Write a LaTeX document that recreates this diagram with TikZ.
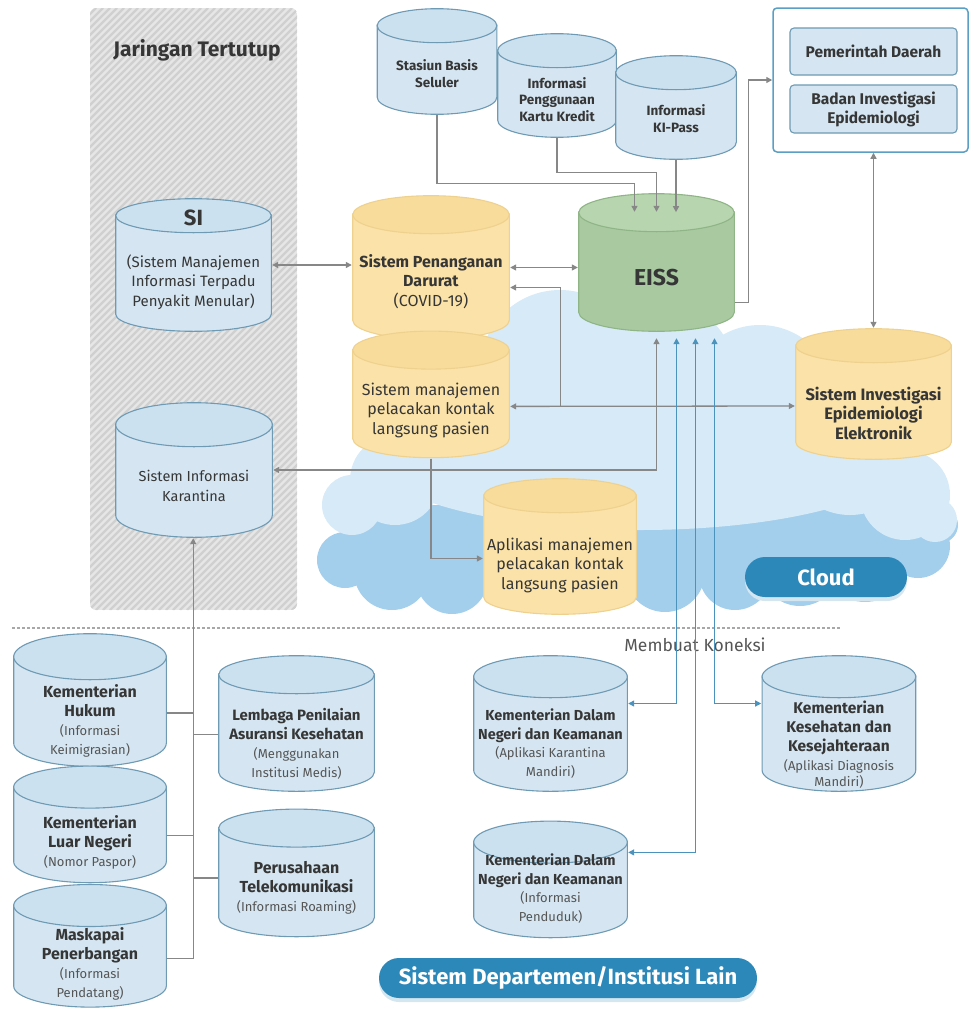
\documentclass[tikz,border=0pt]{standalone}
\usepackage{fontspec}
\setmainfont{Fira Sans}
\usetikzlibrary{arrows.meta,positioning,calc}

\definecolor{ink}{HTML}{363636}
\definecolor{notegray}{HTML}{555555}
\definecolor{dbblue}{HTML}{D5E6F2}
\definecolor{dbbluetop}{HTML}{CCE1EF}
\definecolor{dbblueline}{HTML}{6E9AB4}
\definecolor{dbyellow}{HTML}{FBE2A8}
\definecolor{dbyellowtop}{HTML}{F8DC9C}
\definecolor{dbyellowline}{HTML}{EFD18F}
\definecolor{dbgreen}{HTML}{A9CAA1}
\definecolor{dbgreentop}{HTML}{B7D5AE}
\definecolor{dbgreenline}{HTML}{8FB587}
\definecolor{linegray}{HTML}{878787}
\definecolor{linkblue}{HTML}{4B93BC}
\definecolor{boxline}{HTML}{5A9FC4}
\definecolor{cloudlight}{HTML}{D7EAF7}
\definecolor{clouddark}{HTML}{A3CEEC}
\definecolor{pillblue}{HTML}{2D88BA}
\definecolor{pillshade}{HTML}{D4E6F0}
\definecolor{panel}{HTML}{E6E6E6}
\definecolor{stripe}{HTML}{D0D0D0}
\definecolor{dashgray}{HTML}{A8A8A8}

% smaller grey line under a title
\newcommand\note[1]{{\fontsize{13}{15}\selectfont\mdseries\color{notegray}#1}}

\begin{document}
\begin{tikzpicture}[x=1pt, y=-1pt,
    dbcol/.initial=dbblue,
    dbry/.initial=18,
    % width, height, distance of the last baseline above the bottom
    db/.style n args={3}{rectangle, inner sep=0pt, align=center, text=ink,
      minimum width=#1pt, minimum height=#2pt,
      text depth=#3pt, text height={#2pt-#3pt},
      path picture={
        \path[fill=\pgfkeysvalueof{/tikz/dbcol}, draw=\pgfkeysvalueof{/tikz/dbcol}line, line width=1.1pt]
          let \p1=(path picture bounding box.north west),
              \p2=(path picture bounding box.south east),
              \n1={(\x2-\x1)/2-0.7}, \n2={\pgfkeysvalueof{/tikz/dbry}} in
          ({\x1+0.7pt},{\y1-\n2*1pt}) -- ({\x1+0.7pt},{\y2+\n2*1pt+0.7pt})
          arc[start angle=180, end angle=360, x radius={\n1*1pt}, y radius={\n2*1pt}]
          -- ({\x2-0.7pt},{\y1-\n2*1pt}) -- cycle;
        \path[fill=\pgfkeysvalueof{/tikz/dbcol}top, draw=\pgfkeysvalueof{/tikz/dbcol}line, line width=1.1pt]
          let \p1=(path picture bounding box.north west),
              \p2=(path picture bounding box.south east),
              \n1={(\x2-\x1)/2-0.7}, \n2={\pgfkeysvalueof{/tikz/dbry}} in
          ({(\x1+\x2)/2},{\y1-\n2*1pt-0.7pt}) ellipse[x radius={\n1*1pt}, y radius={\n2*1pt}];
      }},
    small/.style={font=\fontsize{13.5}{16.5}\selectfont\bfseries},
    plain/.style={font=\fontsize{16}{19.5}\selectfont},
    heavy/.style={font=\fontsize{16}{19}\selectfont\bfseries},
    inner/.style={draw=dbblueline, fill=dbblue, line width=1.1pt, rounded corners=4pt,
                  minimum width=167pt, text=ink, align=center,
                  font=\fontsize{15.5}{19}\selectfont\bfseries},
    pill/.style={fill=pillblue, text=white, rounded corners=20pt, minimum height=40pt,
                 font=\fontsize{22}{24}\selectfont\bfseries,
                 preaction={fill=pillshade, transform canvas={yshift=-4pt}}},
    garr/.style={draw=linegray, line width=1.3pt, >={Triangle[length=6pt,width=6pt]}},
    barr/.style={draw=linkblue, line width=1.3pt, >={Triangle[length=6pt,width=6pt]}}]

  \useasboundingbox (0,0) rectangle (971,1009);

  % closed network panel
  \begin{scope}
    \clip[rounded corners=6pt] (90,8) rectangle (297,610);
    \fill[panel] (90,8) rectangle (297,610);
    \foreach \i in {-520,-513,...,300}
      \draw[stripe, line width=2.2pt] (\i,610) -- ++(602,-602);
  \end{scope}
  \node[font=\fontsize{21}{24}\selectfont\bfseries, text=ink] (closed) at (197,50) {Jaringan Tertutup};

  % cloud
  \fill[clouddark] (340,505) rectangle (935,565);
  \foreach \cx/\cy/\r in {345/560/28, 392/572/38, 452/578/36, 515/568/40, 590/565/45,
                          665/572/40, 735/574/36, 800/566/40, 865/560/42, 918/546/32, 940/525/18}
    \fill[clouddark] (\cx,\cy) circle[radius=\r pt];
  \fill[cloudlight] (640,455) ellipse[x radius=270pt, y radius=75pt];
  \foreach \cx/\cy/\r in {352/505/30, 395/480/45, 470/430/75, 560/370/80, 660/375/75,
                          760/400/75, 850/450/65, 905/495/45, 935/520/22}
    \fill[cloudlight] (\cx,\cy) circle[radius=\r pt];

  % data sources on top
  \node[db={121}{107}{28}, dbry=17, small] (BTS) at (437,61.5) {Stasiun Basis\\Seluler};
  \node[db={120}{105}{17}, dbry=17, small] (KK) at (557,85.5) {Informasi\\Penggunaan\\Kartu Kredit};
  \node[db={122}{105}{28}, dbry=17, small] (KIP) at (676,107.5) {Informasi\\KI-Pass};

  % closed network systems
  \node[db={157}{134}{26}, dbry=17, font=\fontsize{15}{19.5}\selectfont] (SI) at (193.5,265)
    {{\fontsize{22}{24}\selectfont\bfseries SI}\\[22pt](Sistem Manajemen\\Informasi Terpadu\\Penyakit Menular)};
  \node[db={158}{136}{37}, dbry=22, font=\fontsize{14.5}{19.5}\selectfont] (Kar) at (194,470)
    {Sistem Informasi\\Karantina};

  % cloud systems
  \node[db={158}{145}{34}, dbcol=dbyellow, dbry=19, plain] (Pen) at (431,267.5)
    {\textbf{Sistem Penanganan}\\\textbf{Darurat}\\(COVID-19)};
  \node[db={158}{128}{24}, dbcol=dbyellow, dbry=19, plain, below=-10pt of Pen] (Man)
    {Sistem manajemen\\pelacakan kontak\\langsung pasien};
  \node[db={154}{137}{26}, dbcol=dbyellow, dbry=17, plain] (Apl) at (560,546.5)
    {Aplikasi manajemen\\pelacakan kontak\\langsung pasien};
  \node[db={157}{139}{47}, dbcol=dbgreen, dbry=19, font=\fontsize{23}{26}\selectfont\bfseries] (EISS)
    at (656.5,262.5) {EISS};
  \node[db={157}{132}{21}, dbcol=dbyellow, dbry=17, font=\fontsize{16.5}{19.5}\selectfont\bfseries] (SIEE)
    at (873.5,394) {Sistem Investigasi\\Epidemiologi\\Elektronik};

  % local government and investigators
  \node[draw=boxline, line width=1.5pt, rounded corners=4pt, fill=white,
        minimum width=195pt, minimum height=144pt] (Gov) at (870.5,80) {};
  \node[inner, minimum height=47pt] (PD) at (873.5,51.5) {Pemerintah Daerah};
  \node[inner, minimum height=48pt] (BIE) at (873.5,109) {Badan Investigasi\\Epidemiologi};

  \node[pill, minimum width=162pt] (cloudtag) at (826,577) {Cloud};

  % other departments
  \draw[dashgray, line width=1.2pt, dash pattern=on 3pt off 2pt] (12,628) -- (840,628);
  \node[text=notegray, font=\fontsize{17.5}{20}\selectfont] (conn) at (695,645) {Membuat Koneksi};

  \node[db={154}{134}{13}, dbry=23, heavy] (Huk) at (90,700)
    {Kementerian\\Hukum\\\note{(Informasi}\\\note{Keimigrasian)}};
  \node[db={154}{118}{17}, dbry=21, heavy, below=-2pt of Huk] (LN)
    {Kementerian\\Luar Negeri\\\note{(Nomor Paspor)}};
  \node[db={154}{124}{10}, dbry=21, heavy, below=0pt of LN] (Mask)
    {Maskapai\\Penerbangan\\\note{(Informasi}\\\note{Pendatang)}};
  \node[db={157}{137}{15}, dbry=19, font=\fontsize{15}{19}\selectfont\bfseries] (LPA) at (296.5,723.5)
    {Lembaga Penilaian\\Asuransi Kesehatan\\\note{(Menggunakan}\\\note{Institusi Medis)}};
  \node[db={157}{129}{26}, dbry=19, heavy, below=16pt of LPA] (Tel)
    {Perusahaan\\Telekomunikasi\\\note{(Informasi Roaming)}};

  \node[db={155}{137}{16}, dbry=21, font=\fontsize{14.5}{18.5}\selectfont\bfseries] (KDN1) at (550.5,723.5)
    {Kementerian Dalam\\Negeri dan Keamanan\\\note{(Aplikasi Karantina}\\\note{Mandiri)}};
  \node[db={155}{118}{17}, dbry=21, font=\fontsize{14.5}{18.5}\selectfont\bfseries, below=28pt of KDN1] (KDN2)
    {Kementerian Dalam\\Negeri dan Keamanan\\\note{(Informasi}\\\note{Penduduk)}};
  \node[db={155}{137}{6}, dbry=21, font=\fontsize{15.5}{19}\selectfont\bfseries, right=133pt of KDN1] (Kes)
    {Kementerian\\Kesehatan dan\\Kesejahteraan\\\note{(Aplikasi Diagnosis}\\[-3pt]\note{Mandiri)}};

  \node[pill, minimum width=378pt] (othertag) at (568,978) {Sistem Departemen/Institusi Lain};

  % links inside the cloud
  \draw[garr,<->] (SI.east) -- (SI.east -| Pen.west);
  \draw[garr,<->] (Pen.east) -- (Pen.east -| EISS.west);
  \draw[garr,->] (BTS.south) -- ++(0,68) -| ([xshift=-22pt,yshift=-19pt]EISS.north);
  \draw[garr,->] (KK.south) -- ++(0,34) -| ([yshift=-19pt]EISS.north);
  \draw[garr,->] (KIP.south) -- ++(0,52);
  \draw[garr,->] ([yshift=-40pt]EISS.east) -- ++(13,0) |- (Gov.west);
  \draw[garr,<->] (Gov.south -| SIEE.north) -- (SIEE.north);
  \draw[garr,<->] ([yshift=-12pt]Man.east) -- ([yshift=-12pt]SIEE.west);
  \draw[garr,->] ($(Man.east)+(50,12)$) |- ([yshift=-20pt]Pen.east);
  \draw[garr,<->] (Kar.east) -| ([yshift=-6pt]EISS.south);
  \draw[garr,->] (Man.south) |- ([yshift=-12pt]Apl.west);

  % links to the departments
  \draw[barr,<->] ([yshift=20pt]KDN1.east) -| ([xshift=20pt,yshift=-6pt]EISS.south);
  \draw[barr,<->] ([yshift=27pt]KDN2.east) -| ([xshift=39pt,yshift=-6pt]EISS.south);
  \draw[barr,<->] ([yshift=20pt]Kes.west) -| ([xshift=58pt,yshift=-6pt]EISS.south);

  \draw[garr,->] ([yshift=-13pt]Mask.east) -- ++(26,0) coordinate (trunk) -- (trunk |- Kar.south);
  \draw[garr] ([yshift=-13pt]Huk.east) -- ++(26,0);
  \draw[garr] ([yshift=-11pt]LN.east) -- ++(26,0);
  \draw[garr] ([yshift=-11pt]LPA.west) -- ++(-25,0);
  \draw[garr] ([yshift=-5pt]Tel.west) -- ++(-25,0);
\end{tikzpicture}
\end{document}
